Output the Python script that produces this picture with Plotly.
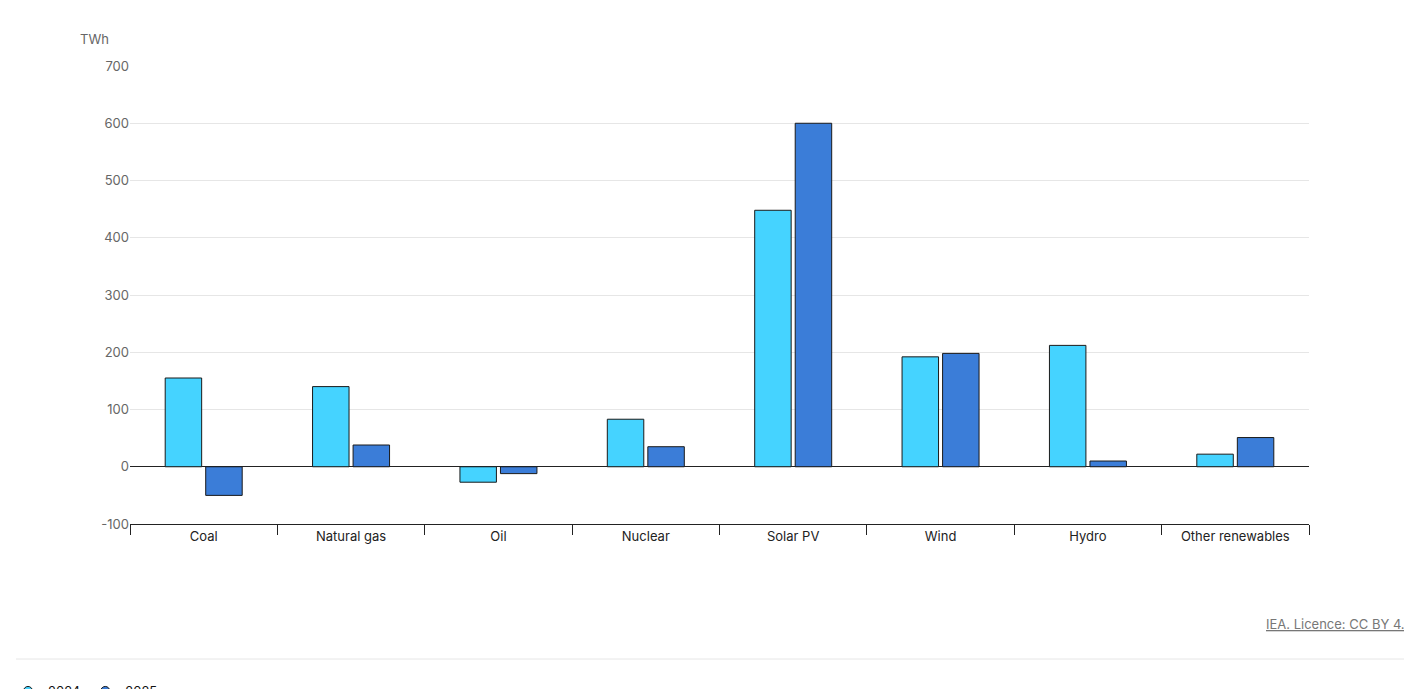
import plotly.graph_objects as go

categories = ["Coal", "Natural gas", "Oil", "Nuclear", "Solar PV", "Wind", "Hydro", "Other renewables"]
v2024 = [155, 140, -27, 83, 448, 192, 212, 22]
v2025 = [-50, 38, -12, 35, 600, 198, 10, 51]
yticks = [-100, 0, 100, 200, 300, 400, 500, 600, 700]
ytick_labels = ["-100", "0", "100", "200", "300", "400", "500", "600", "700"]
c24, c25 = "#45D3FF", "#3B7DD8"

L, R, T, B = 122, 111, 58, 173
W, H = 1412, 689
pw, ph = W - L - R, H - T - B
px = lambda x: (x - L) / pw
py = lambda y: (H - B - y) / ph

fig = go.Figure()
fig.add_bar(x=categories, y=v2024, name="2024", showlegend=False,
            marker=dict(color=c24, line=dict(color="#1a1a1a", width=1)))
fig.add_bar(x=categories, y=v2025, name="2025", showlegend=False,
            marker=dict(color=c25, line=dict(color="#1a1a1a", width=1)))
for nm, c in [("2024", c24), ("2025", c25)]:
    fig.add_scatter(x=[None], y=[None], mode="markers", name=nm,
                    marker=dict(symbol="circle", size=9, color=c, line=dict(color="#1a1a1a", width=1)))

fig.update_layout(
    width=W, height=H, autosize=False,
    paper_bgcolor="white", plot_bgcolor="white",
    margin=dict(l=L, r=R, t=T, b=B, autoexpand=False),
    barmode="group", bargap=0.45, bargroupgap=0.1,
    font=dict(family="Inter, Noto Sans, sans-serif", size=13, color="#333"),
    showlegend=True,
    legend=dict(orientation="h", x=px(0), y=py(668), xanchor="left", yanchor="top",
                font=dict(size=13, color="#111"), itemwidth=30, tracegroupgap=0),
    xaxis=dict(tickson="boundaries", ticks="outside", ticklen=10, tickcolor="#222",
               showline=True, linecolor="#222", linewidth=1, showgrid=False, automargin=False,
               tickfont=dict(size=13, color="#222")),
    yaxis=dict(range=[-100, 700], tickvals=yticks, ticktext=ytick_labels, showgrid=True,
               gridcolor="#e6e6e6", automargin=False,
               zeroline=True, zerolinecolor="#222", zerolinewidth=1,
               tickfont=dict(size=13, color="#666"), ticksuffix="   "),
    annotations=[
        dict(text="TWh", x=px(70), y=py(21), xref="paper", yref="paper", xanchor="left",
             showarrow=False, font=dict(size=13, color="#666")),
        dict(text="<u>IEA. Licence: CC BY 4.0</u>", x=px(1406), y=py(626), xref="paper", yref="paper",
             xanchor="right", showarrow=False, font=dict(size=13, color="#777")),
    ],
    shapes=[dict(type="line", xref="paper", yref="paper", x0=px(8), x1=px(1406),
                 y0=py(651), y1=py(651), line=dict(color="#e6e6e6", width=1))],
)
fig.write_html("out.html")
